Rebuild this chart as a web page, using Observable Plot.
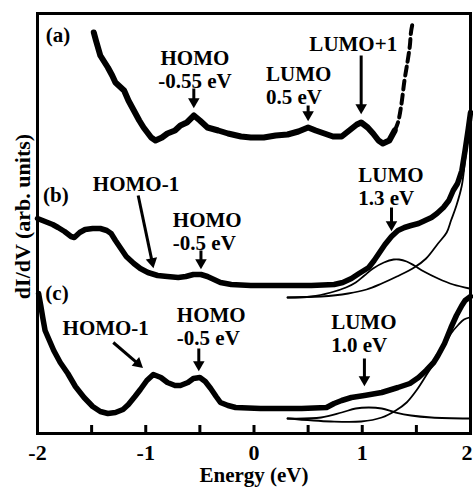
<!DOCTYPE html>
<html><head><meta charset="utf-8">
<script src="https://cdn.jsdelivr.net/npm/d3@7"></script>
<script src="https://cdn.jsdelivr.net/npm/@observablehq/plot@0.6"></script>
<style>body{margin:0;background:#fff}</style>
</head><body><div id="chart"></div>
<script>
// ---- data (Energy in eV, dI/dV in arbitrary units) ----
const curveA = [[-1.48,40.1],[-1.46,39.3],[-1.42,37.8],[-1.35,36.6],[-1.31,35.8],[-1.28,35.1],[-1.20,34.3],[-1.16,33.3],[-1.11,32.3],[-1.06,31.3],[-1.02,30.6],[-0.95,29.6],[-0.91,29.3],[-0.85,29.6],[-0.80,30.0],[-0.73,30.3],[-0.68,30.8],[-0.62,31.1],[-0.555,31.8],[-0.50,31.3],[-0.43,30.6],[-0.33,30.3],[-0.24,30.0],[-0.12,29.7],[-0.03,29.6],[0.09,29.6],[0.20,29.8],[0.31,29.9],[0.41,30.2],[0.50,30.6],[0.57,30.3],[0.65,30.0],[0.73,29.7],[0.81,29.7],[0.88,30.3],[0.95,30.9],[0.99,31.1],[1.05,30.6],[1.10,30.0],[1.15,29.3],[1.19,29.0],[1.25,29.3],[1.30,30.3]];
const curveAExtrap = [[1.30,30.3],[1.33,31.1],[1.36,32.8],[1.39,35.3],[1.42,37.3],[1.44,38.8],[1.45,40.1],[1.47,41.3]];
const curveB = [[-2.0,21.5],[-1.93,21.2],[-1.86,20.9],[-1.81,20.6],[-1.75,20.2],[-1.69,19.7],[-1.66,19.6],[-1.61,20.1],[-1.56,20.4],[-1.49,20.5],[-1.42,20.5],[-1.36,20.3],[-1.32,20.0],[-1.28,19.3],[-1.23,18.5],[-1.18,17.7],[-1.11,17.0],[-1.05,16.5],[-0.98,16.1],[-0.89,15.8],[-0.80,15.7],[-0.70,15.6],[-0.63,15.7],[-0.56,15.9],[-0.49,15.9],[-0.43,15.7],[-0.37,15.4],[-0.31,15.1],[-0.21,14.9],[-0.03,14.8],[0.25,14.8],[0.53,14.8],[0.74,14.9],[0.82,15.1],[0.90,15.5],[0.97,16.0],[1.06,16.6],[1.11,17.3],[1.16,18.1],[1.21,18.9],[1.27,19.7],[1.33,20.3],[1.39,20.6],[1.45,20.8],[1.52,21.0],[1.58,21.3],[1.64,21.6],[1.69,22.0],[1.75,22.6],[1.80,23.3],[1.84,24.3],[1.88,25.0],[1.92,26.3],[1.95,28.3],[1.98,30.5],[2.0,32.1]];
const fitBPeak = [[0.31,13.6],[0.53,13.7],[0.71,14.1],[0.85,14.6],[0.94,15.1],[1.02,15.8],[1.10,16.5],[1.20,17.1],[1.29,17.4],[1.34,17.4],[1.41,17.2],[1.48,16.8],[1.57,16.2],[1.70,15.5],[1.84,14.9],[1.99,14.5]];
const fitBBackground = [[0.31,13.6],[0.62,13.7],[0.87,14.0],[1.04,14.4],[1.18,15.0],[1.32,15.7],[1.48,16.6],[1.59,17.5],[1.70,19.0],[1.78,20.1],[1.82,21.3],[1.87,22.8],[1.92,24.8],[1.95,27.3],[2.0,31.5]];
const curveC = [[-1.99,14.0],[-1.97,12.8],[-1.95,11.5],[-1.93,10.3],[-1.89,9.3],[-1.85,8.3],[-1.79,7.1],[-1.72,6.0],[-1.65,4.7],[-1.57,3.6],[-1.49,2.7],[-1.42,2.2],[-1.35,2.0],[-1.28,2.1],[-1.21,2.4],[-1.16,2.9],[-1.10,3.7],[-1.05,4.4],[-0.99,5.3],[-0.93,5.9],[-0.86,5.6],[-0.80,5.1],[-0.73,4.8],[-0.68,4.8],[-0.61,5.1],[-0.56,5.5],[-0.50,5.6],[-0.45,5.2],[-0.40,4.5],[-0.35,3.7],[-0.31,3.1],[-0.24,2.8],[-0.17,2.6],[0.06,2.5],[0.44,2.5],[0.67,2.6],[0.74,3.0],[0.81,3.3],[0.90,3.6],[1.02,3.8],[1.18,4.1],[1.33,4.6],[1.44,5.0],[1.52,5.6],[1.59,6.3],[1.66,7.1],[1.70,7.8],[1.76,9.0],[1.82,10.6],[1.87,11.8],[1.92,12.8],[1.95,13.3],[2.0,13.7]];
const fitCPeak = [[0.31,1.5],[0.62,1.6],[0.81,2.1],[0.94,2.5],[1.06,2.6],[1.18,2.5],[1.31,2.1],[1.45,1.8],[1.64,1.6],[1.99,1.5]];
const fitCBackground = [[0.31,1.5],[0.71,1.2],[0.99,1.2],[1.18,1.6],[1.31,2.3],[1.41,3.1],[1.50,4.3],[1.59,5.8],[1.69,7.5],[1.76,8.8],[1.82,10.0],[1.89,10.9],[1.94,11.4],[1.99,11.6]];

const minorTicks = [-1.5, -1, -0.5, 0, 0.5, 1, 1.5];
const tickLabels = [-2, -1, 0, 1];
const lastTickLabel = [2];
const panelLabels = [{text:"(a)", x:-1.81, y:39.8},{text:"(b)", x:-1.83, y:23.8},{text:"(c)", x:-1.82, y:14.0}];
const labelsCentered = [
  {text:"HOMO\n-0.55 eV", x:-0.546, y:36.4},
  {text:"LUMO+1", x:0.917, y:39.0},
  {text:"HOMO-1", x:-1.09, y:25.0},
  {text:"HOMO-1", x:-1.37, y:10.6}
];
const labelsStart = [
  {text:"LUMO\n0.5 eV", x:0.111, y:34.8},
  {text:"HOMO\n-0.5 eV", x:-0.75, y:20.2},
  {text:"LUMO\n1.3 eV", x:0.963, y:24.7},
  {text:"HOMO\n-0.5 eV", x:-0.713, y:10.75},
  {text:"LUMO\n1.0 eV", x:0.713, y:10.0}
];
const arrows = [
  {x1:-0.556, y1:34.5, x2:-0.556, y2:32.6},
  {x1:0.5, y1:32.8, x2:0.5, y2:31.3},
  {x1:0.99, y1:37.8, x2:0.99, y2:32.0},
  {x1:-1.07, y1:23.8, x2:-0.93, y2:16.6},
  {x1:-0.49, y1:18.3, x2:-0.49, y2:16.5},
  {x1:1.27, y1:22.6, x2:1.27, y2:20.3},
  {x1:-1.30, y1:9.1, x2:-1.03, y2:6.6},
  {x1:-0.51, y1:8.5, x2:-0.51, y2:6.3},
  {x1:1.02, y1:7.5, x2:1.02, y2:4.8}
];

// ---- layout ----
const W = 473, H = 487, ML = 37, MR = 3, MT = 13, MB = 54;
const xDomain = [-2, 2], yDomain = [0, 42];
const kx = (W - ML - MR) / (xDomain[1] - xDomain[0]);
const ky = (H - MT - MB) / (yDomain[1] - yDomain[0]);
const HEAD_BACK = 6;
const arrowParts = arrows.map(a => {
  const dx = (a.x2 - a.x1) * kx, dy = -(a.y2 - a.y1) * ky;
  const len = Math.hypot(dx, dy);
  const ux = dx / len, uy = dy / len;
  return {x1: a.x1, y1: a.y1,
    hx: a.x2 - ux * HEAD_BACK / kx, hy: a.y2 + uy * HEAD_BACK / ky,
    rot: Math.atan2(dx, -dy) * 180 / Math.PI};
});

const font = {fontFamily: "Liberation Serif", fontWeight: "bold", fontSize: 21, fill: "black"};
const axisFont = {...font, fontSize: 22};
const px = d => d[0], py = d => d[1];

const chart = Plot.plot({
  width: W, height: H,
  marginLeft: ML, marginRight: MR, marginTop: MT, marginBottom: MB,
  x: {domain: xDomain, axis: null},
  y: {domain: yDomain, axis: null},
  style: {fontFamily: "Liberation Serif", background: "white"},
  marks: [
    Plot.line(fitBPeak, {x: px, y: py, stroke: "black", strokeWidth: 1.8, curve: "catmull-rom"}),
    Plot.line(fitBBackground, {x: px, y: py, stroke: "black", strokeWidth: 1.8, curve: "catmull-rom"}),
    Plot.line(fitCPeak, {x: px, y: py, stroke: "black", strokeWidth: 1.8, curve: "catmull-rom"}),
    Plot.line(fitCBackground, {x: px, y: py, stroke: "black", strokeWidth: 1.8, curve: "catmull-rom"}),
    Plot.line(curveA, {x: px, y: py, stroke: "black", strokeWidth: 6, strokeLinejoin: "round"}),
    Plot.line(curveAExtrap, {x: px, y: py, stroke: "black", strokeWidth: 4, strokeDasharray: "9,5", curve: "catmull-rom"}),
    Plot.line(curveB, {x: px, y: py, stroke: "black", strokeWidth: 5.5, strokeLinejoin: "round"}),
    Plot.line(curveC, {x: px, y: py, stroke: "black", strokeWidth: 5.5, strokeLinejoin: "round"}),
    Plot.tickX(minorTicks, {x: d => d, insetTop: (H - MT - MB) - 8, stroke: "black", strokeWidth: 3}),
    Plot.frame({stroke: "black", strokeWidth: 3}),
    Plot.link(arrowParts, {x1: "x1", y1: "y1", x2: "hx", y2: "hy", stroke: "black", strokeWidth: 3}),
    Plot.dot(arrowParts, {x: "hx", y: "hy", symbol: "triangle2", r: 5.5, fill: "black", stroke: null, rotate: "rot"}),
    Plot.text(panelLabels, {x: "x", y: "y", text: "text", ...font}),
    Plot.text(labelsCentered, {x: "x", y: "y", text: "text", lineHeight: 1.1, textAnchor: "middle", ...font}),
    Plot.text(labelsStart, {x: "x", y: "y", text: "text", lineHeight: 1.1, textAnchor: "start", ...font}),
    Plot.text(tickLabels, {x: d => d, text: d => String(d), frameAnchor: "bottom", textAnchor: "middle", lineAnchor: "middle", dy: 19, ...axisFont}),
    Plot.text(lastTickLabel, {x: d => d, text: d => String(d), frameAnchor: "bottom", textAnchor: "end", lineAnchor: "middle", dx: 2, dy: 19, ...axisFont}),
    Plot.text(["Energy (eV)"], {frameAnchor: "bottom", textAnchor: "middle", lineAnchor: "middle", dy: 42, ...axisFont, fontSize: 21}),
    Plot.text(["dI/dV (arb. units)"], {frameAnchor: "left", textAnchor: "middle", lineAnchor: "middle", rotate: -90, dx: -15, dy: -7, ...axisFont})
  ]
});
document.getElementById("chart").append(chart);
</script>
</body></html>
